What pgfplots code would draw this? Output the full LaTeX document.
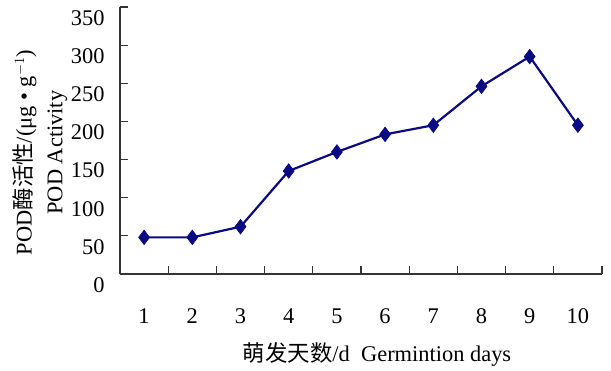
\documentclass[border=0pt]{standalone}
\usepackage{pgfplots}
\pgfplotsset{compat=1.18}
\usepackage{fontspec}
\setmainfont{Liberation Serif}
\newfontfamily\cjk{Noto Sans CJK SC}
\definecolor{navyline}{RGB}{10,10,130}
\begin{document}
\begin{tikzpicture}
\begin{axis}[
  scale only axis,
  width=482bp, height=267bp,
  xmin=0.5, xmax=10.5, ymin=0, ymax=350,
  axis lines=left,
  axis line style={-, line width=1.3bp, black!80},
  tick align=inside,
  xtick={1,...,10},
  minor xtick={1.5,2.5,...,10.5},
  ytick={0,50,...,350},
  major tick length=8bp,
  minor tick length=8bp,
  tick style={line width=1.2bp, black!80},
  major x tick style={draw=none},
  /pgf/number format/assume math mode=true,
  tick label style={font=\fontsize{22.5}{26}\selectfont},
  yticklabel style={yshift=-11bp, xshift=-12bp},
  xticklabel style={yshift=-31bp},
  xlabel={{\cjk 萌发天数}/d\ \ Germintion days},
  xlabel style={font=\fontsize{22.5}{26}\selectfont, at={(axis description cs:0.5,0)}, anchor=center, yshift=-80bp, xshift=16bp},
  ylabel={POD{\cjk 酶活性}/(μg • g$^{-1}$)\\[5bp]POD Activity},
  ylabel style={font=\fontsize{22.5}{26}\selectfont, align=center, at={(axis description cs:-0.166,0.455)}, anchor=center},
  clip=false,
]
\addplot[navyline, line width=2.2bp, mark=diamond*, mark size=7.3bp, mark options={fill=navyline, draw=navyline, line width=0.6bp}]
  coordinates {(1,48) (2,48) (3,62) (4,135) (5,160) (6,183) (7,195) (8,246) (9,285) (10,195)};
\end{axis}
\pgfresetboundingbox
\path[use as bounding box] (-120bp,-97bp) rectangle (491bp,274bp);
\end{tikzpicture}
\end{document}
